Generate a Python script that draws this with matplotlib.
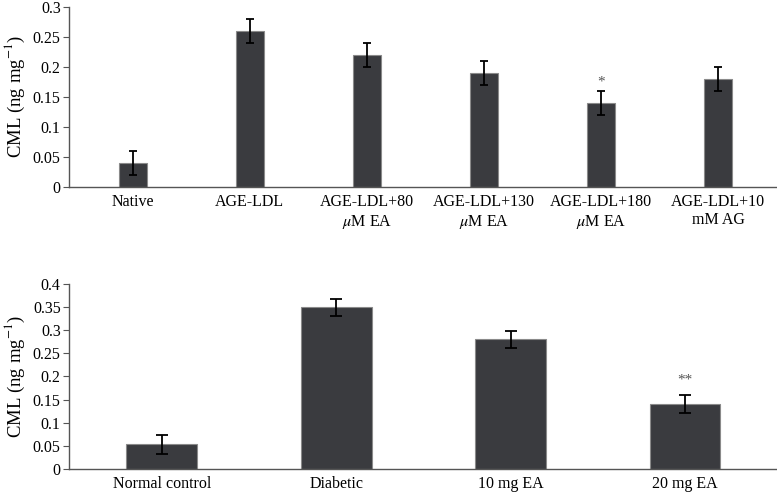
import matplotlib
matplotlib.use("Agg")
import matplotlib.pyplot as plt
import numpy as np

plt.rcParams['font.family'] = ['Liberation Serif', 'DejaVu Serif']
plt.rcParams['mathtext.fontset'] = 'stix'

top_labels = ["Native", "AGE-LDL", "AGE-LDL+80\n$\\mu$M EA", "AGE-LDL+130\n$\\mu$M EA",
              "AGE-LDL+180\n$\\mu$M EA", "AGE-LDL+10\nmM AG"]
top_values = [0.04, 0.26, 0.22, 0.19, 0.14, 0.18]
top_errors = [0.02, 0.02, 0.02, 0.02, 0.02, 0.02]
top_ticks = [0, 0.05, 0.1, 0.15, 0.2, 0.25, 0.3]
top_tick_labels = ["0", "0.05", "0.1", "0.15", "0.2", "0.25", "0.3"]

bot_labels = ["Normal control", "Diabetic", "10 mg EA", "20 mg EA"]
bot_values = [0.053, 0.349, 0.280, 0.140]
bot_errors = [0.020, 0.018, 0.019, 0.020]
bot_ticks = [0, 0.05, 0.1, 0.15, 0.2, 0.25, 0.3, 0.35, 0.4]
bot_tick_labels = ["0", "0.05", "0.1", "0.15", "0.2", "0.25", "0.3", "0.35", "0.4"]

bar_color = "#3a3b3f"
edge_color = "#8a8a8a"
axis_color = "#555555"

fig = plt.figure(figsize=(7.77, 4.92), dpi=100)
ax1 = fig.add_axes([0.0888, 0.620, 0.9112, 0.366])
ax2 = fig.add_axes([0.0888, 0.0467, 0.9112, 0.3763])

def style(ax, ticks, ticklabels, ymax, pad):
    for s in ["top", "right"]:
        ax.spines[s].set_visible(False)
    for s in ["left", "bottom"]:
        ax.spines[s].set_color(axis_color)
        ax.spines[s].set_linewidth(1.0)
    ax.set_ylim(0, ymax)
    ax.set_yticks(ticks)
    ax.set_yticklabels(ticklabels)
    ax.tick_params(axis='y', direction='out', length=4, color=axis_color, labelsize=11.5, pad=2)
    ax.tick_params(axis='x', length=0, labelsize=11.5, pad=5)
    ax.set_ylabel("CML (ng mg$^{-1}$)", fontsize=13.5, labelpad=pad)

x1 = np.arange(len(top_labels))
ax1.bar(x1, top_values, width=0.24, color=bar_color, edgecolor=edge_color, linewidth=0.8,
        yerr=top_errors, error_kw=dict(ecolor="black", elinewidth=1.3, capsize=3, capthick=1.3))
ax1.set_xticks(x1)
ax1.set_xticklabels(top_labels, linespacing=1.2)
ax1.set_xlim(-0.544, 5.504)
style(ax1, top_ticks, top_tick_labels, 0.3, 4)
ax1.text(x1[4], top_values[4] + top_errors[4] + 0.015, "*", ha='center', va='center',
         fontsize=11, color="#555555")

x2 = np.arange(len(bot_labels))
ax2.bar(x2, bot_values, width=0.405, color=bar_color, edgecolor=edge_color, linewidth=0.8,
        yerr=bot_errors, error_kw=dict(ecolor="black", elinewidth=1.3, capsize=4, capthick=1.3))
ax2.set_xticks(x2)
ax2.set_xticklabels(bot_labels)
ax2.set_xlim(-0.532, 3.527)
style(ax2, bot_ticks, bot_tick_labels, 0.4, 4)
ax2.text(x2[3], bot_values[3] + bot_errors[3] + 0.032, "**", ha='center', va='center',
         fontsize=11, color="#555555")

fig.savefig("out.png", dpi=100)
